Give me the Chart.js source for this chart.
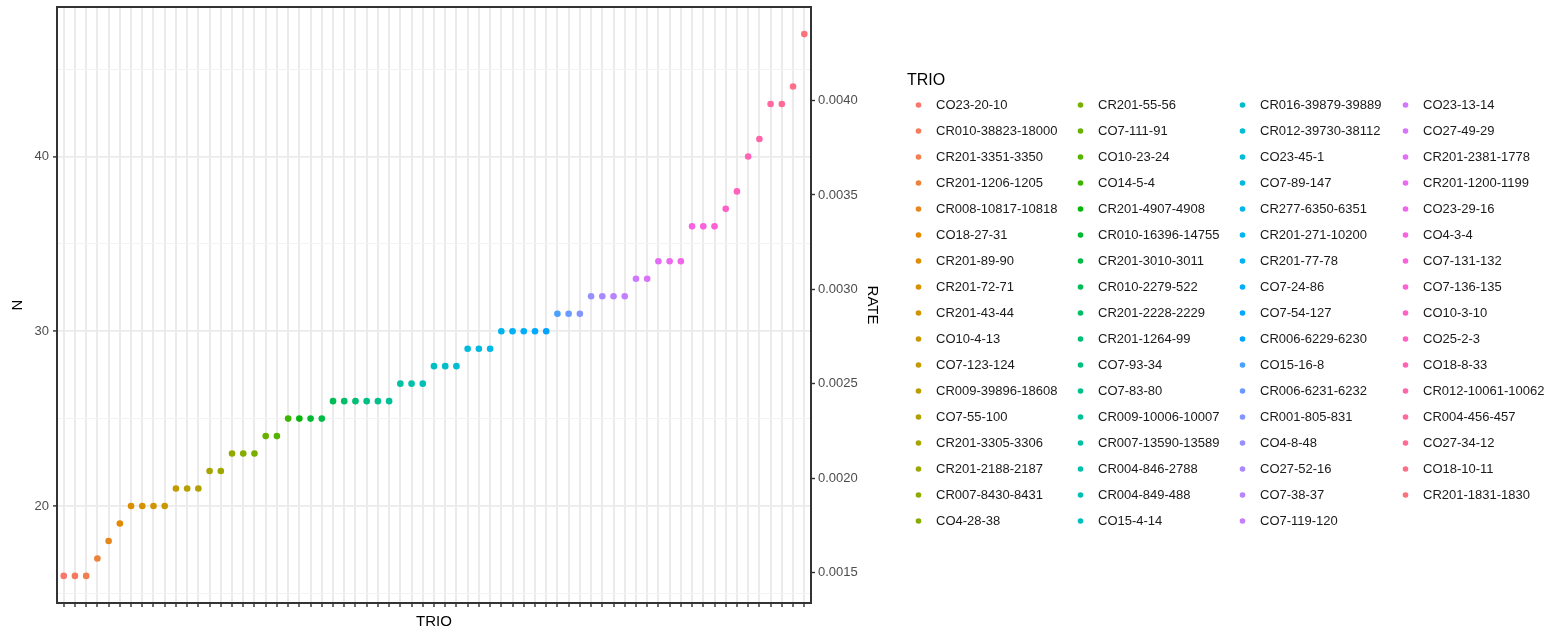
<!DOCTYPE html>
<html>
<head>
<meta charset="utf-8">
<title>N / RATE by TRIO</title>
<script src="https://cdn.jsdelivr.net/npm/chart.js@4/dist/chart.umd.min.js"></script>
<style>
  html, body { margin: 0; padding: 0; background: #ffffff; }
  #wrap { position: relative; width: 1554px; height: 634px; }
</style>
</head>
<body>
<div id="wrap"><canvas id="trioChart" width="1554" height="634"></canvas></div>
<script>
// categories, in plot / legend order
const trios = [
  'CO23-20-10', 'CR010-38823-18000', 'CR201-3351-3350', 'CR201-1206-1205', 'CR008-10817-10818',
  'CO18-27-31', 'CR201-89-90', 'CR201-72-71', 'CR201-43-44', 'CO10-4-13', 'CO7-123-124',
  'CR009-39896-18608', 'CO7-55-100', 'CR201-3305-3306', 'CR201-2188-2187', 'CR007-8430-8431',
  'CO4-28-38',
  'CR201-55-56', 'CO7-111-91', 'CO10-23-24', 'CO14-5-4', 'CR201-4907-4908', 'CR010-16396-14755',
  'CR201-3010-3011', 'CR010-2279-522', 'CR201-2228-2229', 'CR201-1264-99', 'CO7-93-34', 'CO7-83-80',
  'CR009-10006-10007', 'CR007-13590-13589', 'CR004-846-2788', 'CR004-849-488', 'CO15-4-14',
  'CR016-39879-39889', 'CR012-39730-38112', 'CO23-45-1', 'CO7-89-147', 'CR277-6350-6351',
  'CR201-271-10200', 'CR201-77-78', 'CO7-24-86', 'CO7-54-127', 'CR006-6229-6230', 'CO15-16-8',
  'CR006-6231-6232', 'CR001-805-831', 'CO4-8-48', 'CO27-52-16', 'CO7-38-37', 'CO7-119-120',
  'CO23-13-14', 'CO27-49-29', 'CR201-2381-1778', 'CR201-1200-1199', 'CO23-29-16', 'CO4-3-4',
  'CO7-131-132', 'CO7-136-135', 'CO10-3-10', 'CO25-2-3', 'CO18-8-33', 'CR012-10061-10062',
  'CR004-456-457', 'CO27-34-12', 'CO18-10-11', 'CR201-1831-1830'
];

// N for each trio
const nValues = [
  16, 16, 16, 17, 18, 19, 20, 20, 20, 20,
  21, 21, 21, 22, 22, 23, 23, 23, 24, 24,
  25, 25, 25, 25, 26, 26, 26, 26, 26, 26,
  27, 27, 27, 28, 28, 28, 29, 29, 29, 30,
  30, 30, 30, 30, 31, 31, 31, 32, 32, 32,
  32, 33, 33, 34, 34, 34, 36, 36, 36, 37,
  38, 40, 41, 43, 43, 44, 47
];

const nTicks = [20, 30, 40];
const nMinorTicks = [15, 25, 35, 45];
const rateTicks = [0.0015, 0.0020, 0.0025, 0.0030, 0.0035, 0.0040];

// RATE axis is N scaled by a constant
const rateFactor = 9.26e-5;

// ggplot-like limits (5% expansion, 0.6 on discrete axis)
const nMin = 16 - 0.05 * (47 - 16);
const nMax = 47 + 0.05 * (47 - 16);

// hcl -> hex, like R's grDevices::hcl
function hcl(h, c, l) {
  const WX = 95.047, WY = 100.0, WZ = 108.883;
  const wu = 4 * WX / (WX + 15 * WY + 3 * WZ);
  const wv = 9 * WY / (WX + 15 * WY + 3 * WZ);
  const hr = h * Math.PI / 180;
  const U = c * Math.cos(hr), V = c * Math.sin(hr);
  const Y = WY * (l > 7.999592 ? Math.pow((l + 16) / 116, 3) : l / 903.3);
  const u = U / (13 * l) + wu, v = V / (13 * l) + wv;
  const X = 9 * Y * u / (4 * v);
  const Z = -X / 3 - 5 * Y + 3 * Y / v;
  const g = t => t > 0.00304 ? 1.055 * Math.pow(t, 1 / 2.4) - 0.055 : 12.92 * t;
  const rgb = [
    g((3.240479 * X - 1.537150 * Y - 0.498535 * Z) / WY),
    g((-0.969256 * X + 1.875992 * Y + 0.041556 * Z) / WY),
    g((0.055648 * X - 0.204043 * Y + 1.057311 * Z) / WY)
  ];
  return '#' + rgb.map(x => {
    const k = Math.round(Math.min(1, Math.max(0, x)) * 255);
    return k.toString(16).padStart(2, '0');
  }).join('');
}

const colors = trios.map((t, i) => hcl(15 + i * 360 / trios.length, 100, 65));

Chart.defaults.font.family = "'Liberation Sans', Arial, sans-serif";

// panel border + legend
const panelAndLegend = {
  id: 'panelAndLegend',
  afterDraw(chart) {
    const ctx = chart.ctx;
    const a = chart.chartArea;
    ctx.save();
    ctx.strokeStyle = '#333333';
    ctx.lineWidth = 2;
    ctx.strokeRect(a.left, a.top, a.right - a.left, a.bottom - a.top);

    ctx.fillStyle = '#000000';
    ctx.textBaseline = 'middle';
    ctx.textAlign = 'left';
    ctx.font = "16px 'Liberation Sans', Arial, sans-serif";
    ctx.fillText('TRIO', 907, 81);

    const colX = [936, 1098, 1260, 1423];
    ctx.font = "13px 'Liberation Sans', Arial, sans-serif";
    trios.forEach((t, i) => {
      const col = Math.floor(i / 17), row = i % 17;
      const x = colX[col], y = 105 + row * 26;
      ctx.fillStyle = colors[i];
      ctx.beginPath();
      ctx.arc(x - 17.5, y, 2.8, 0, Math.PI * 2);
      ctx.fill();
      ctx.fillStyle = '#1a1a1a';
      ctx.fillText(t, x, y + 0.5);
    });
    ctx.restore();
  }
};

// fixed axis sizes, no extra label overflow padding
function fixBox(size, vertical) {
  return s => {
    if (vertical) { s.width = size; } else { s.height = size; }
    s.paddingTop = 0; s.paddingBottom = 0; s.paddingLeft = 0; s.paddingRight = 0;
  };
}

const ctx = document.getElementById('trioChart').getContext('2d');

const trioChart = new Chart(ctx, {
  type: 'scatter',
  data: {
    datasets: [{
      label: 'N',
      data: trios.map((t, i) => ({ x: i, y: nValues[i] })),
      backgroundColor: colors,
      borderWidth: 0,
      pointRadius: 3.3,
      pointHoverRadius: 3.3,
      yAxisID: 'y'
    }]
  },
  options: {
    responsive: false,
    animation: false,
    layout: {
      padding: { top: 7, right: 663, bottom: 0, left: 0 }
    },
    plugins: {
      legend: { display: false },
      tooltip: { enabled: false }
    },
    scales: {
      x: {
        type: 'linear',
        position: 'bottom',
        min: -0.6,
        max: trios.length - 1 + 0.6,
        afterBuildTicks: s => { s.ticks = trios.map((t, i) => ({ value: i })); },
        afterFit: fixBox(31, false),
        ticks: { display: false },
        border: { display: false },
        grid: {
          color: '#EBEBEB',
          lineWidth: 2,
          tickColor: '#333333',
          tickWidth: 1.4,
          tickLength: 4
        },
        title: {
          display: true,
          text: 'TRIO',
          color: '#000000',
          font: { size: 15 },
          padding: { top: 0, bottom: 3 }
        }
      },
      y: {
        type: 'linear',
        position: 'left',
        min: nMin,
        max: nMax,
        afterBuildTicks: s => {
          s.ticks = nMinorTicks.concat(nTicks).sort((p, q) => p - q).map(v => ({ value: v }));
        },
        afterFit: fixBox(57, true),
        ticks: {
          color: '#4D4D4D',
          font: { size: 13 },
          padding: 4,
          callback: v => nTicks.includes(v) ? String(v) : ''
        },
        border: { display: false },
        grid: {
          color: c => nTicks.includes(c.tick.value) ? '#EBEBEB' : '#F3F3F3',
          lineWidth: c => nTicks.includes(c.tick.value) ? 1.8 : 1,
          tickColor: c => nTicks.includes(c.tick.value) ? '#333333' : 'rgba(0,0,0,0)',
          tickWidth: 1.4,
          tickLength: 4
        },
        title: {
          display: true,
          text: 'N',
          color: '#000000',
          font: { size: 15 },
          padding: { top: 9, bottom: 0 }
        }
      },
      y2: {
        type: 'linear',
        position: 'right',
        min: nMin * rateFactor,
        max: nMax * rateFactor,
        afterBuildTicks: s => { s.ticks = rateTicks.map(v => ({ value: v })); },
        afterFit: fixBox(80, true),
        ticks: {
          color: '#4D4D4D',
          font: { size: 13 },
          padding: 3,
          callback: v => v.toFixed(4)
        },
        border: { display: false },
        grid: {
          drawOnChartArea: false,
          tickColor: '#333333',
          tickWidth: 1.4,
          tickLength: 4
        },
        title: {
          display: true,
          text: 'RATE',
          color: '#000000',
          font: { size: 15 },
          padding: { top: 10, bottom: 0 }
        }
      }
    }
  },
  plugins: [panelAndLegend]
});
</script>
</body>
</html>
